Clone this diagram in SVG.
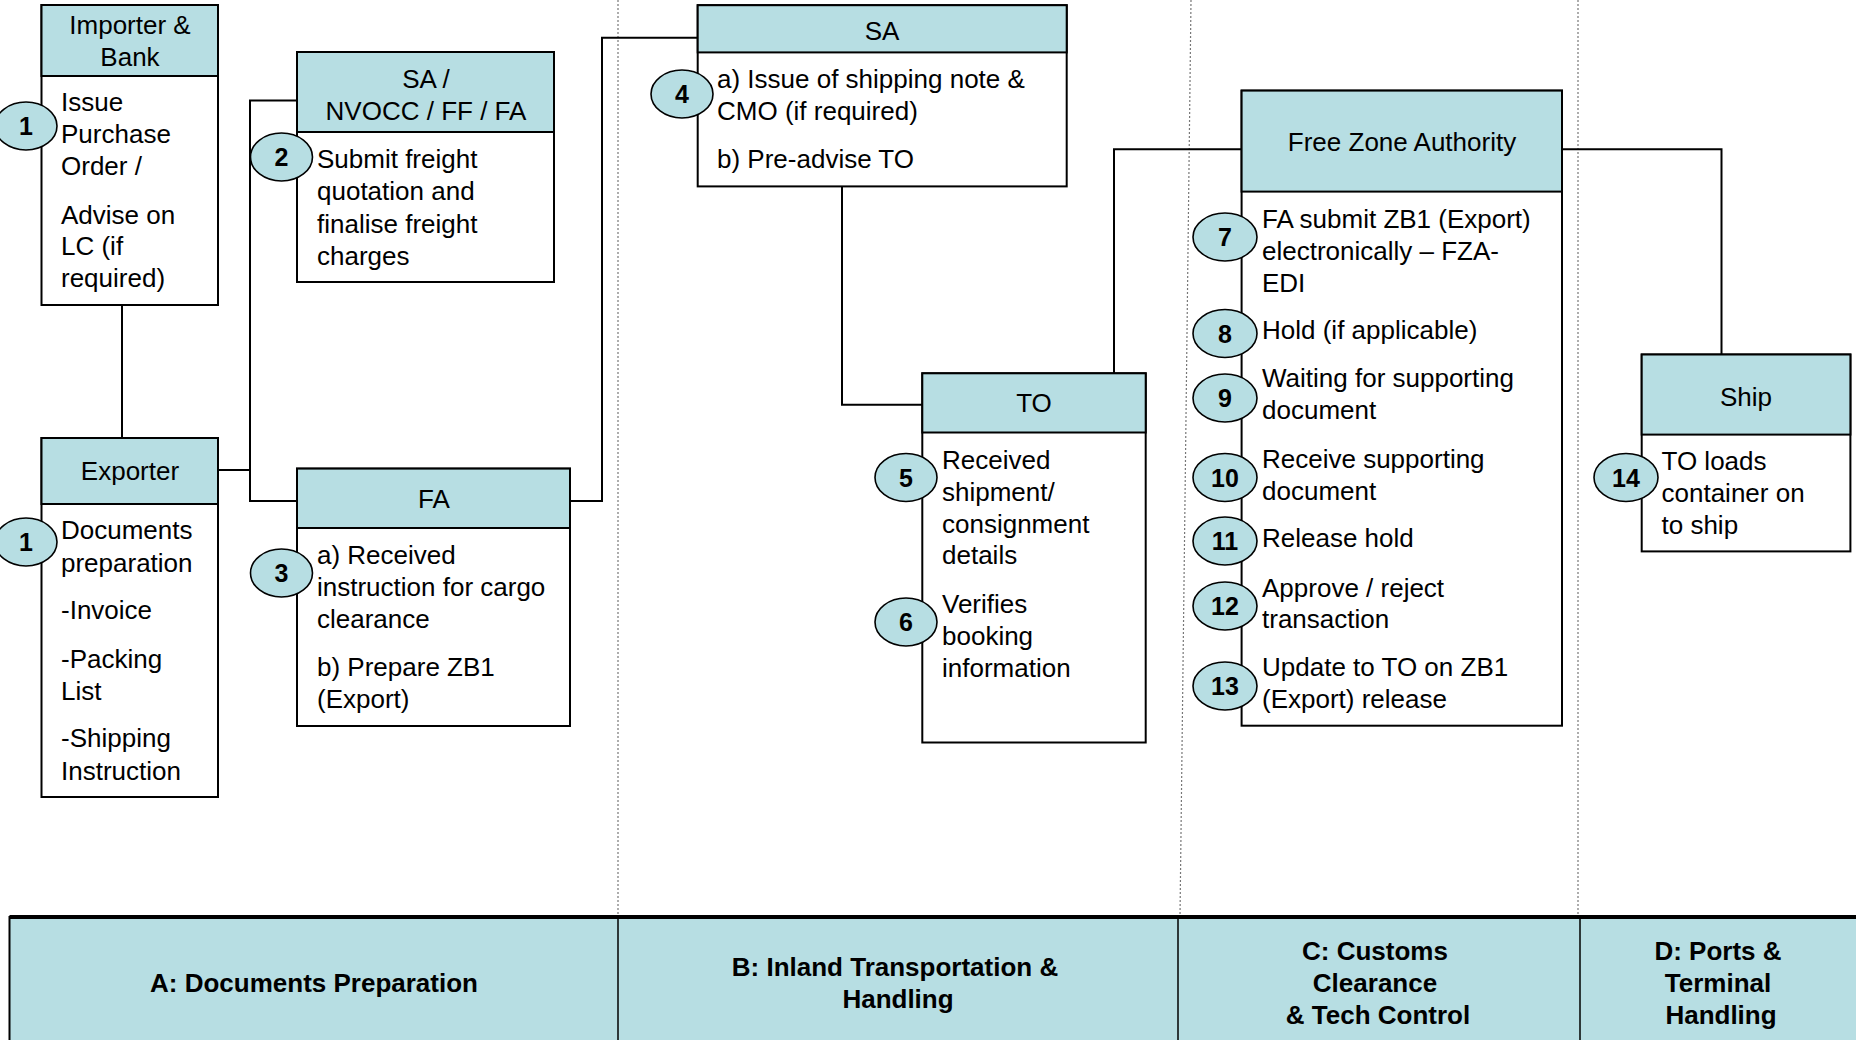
<svg xmlns="http://www.w3.org/2000/svg" width="1856" height="1040" viewBox="0 0 1856 1040">
<style>
text{font-family:"Liberation Sans",Arial,sans-serif;font-size:26px;fill:#000}
.h{text-anchor:middle}
.box{fill:#fff;stroke:#000;stroke-width:2}
.hd{fill:#B7DEE3;stroke:#000;stroke-width:2}
.num ellipse{fill:#B7DEE3;stroke:#000;stroke-width:1.6}
.num text{font-weight:bold;font-size:25px;text-anchor:middle}
.ln{fill:none;stroke:#000;stroke-width:2}
.dot{stroke:#777;stroke-width:1.2;stroke-dasharray:2 2;fill:none}
.band text{font-weight:bold;text-anchor:middle}
</style>
<rect width="1856" height="1040" fill="#fff"/>
<g id="lanes">
<line class="dot" x1="618" y1="0" x2="618" y2="917"/>
<line class="dot" x1="1191" y1="0" x2="1180" y2="917"/>
<line class="dot" x1="1578" y1="0" x2="1578" y2="917"/>
</g>
<g id="connectors">
<path class="ln" d="M122 305V438"/>
<path class="ln" d="M218 470H250M297 100.5H250V501H297"/>
<path class="ln" d="M570 501H602V37.7H698"/>
<path class="ln" d="M842 186V404.7H922"/>
<path class="ln" d="M1114 373V149.2H1242"/>
<path class="ln" d="M1562 149.2H1721.5V354.5"/>
</g>
<g id="importer">
<rect class="box" x="41.5" y="5" width="176.5" height="300"/>
<rect class="hd" x="41.5" y="5" width="176.5" height="71"/>
<text class="h" x="130" y="34">Importer &amp;</text>
<text class="h" x="130" y="66">Bank</text>
<text x="61" y="111">Issue</text>
<text x="61" y="142.5">Purchase</text>
<text x="61" y="175">Order /</text>
<text x="61" y="224">Advise on</text>
<text x="61" y="255">LC (if</text>
<text x="61" y="286.5">required)</text>
</g>
<g id="exporter">
<rect class="box" x="41.5" y="438" width="176.5" height="359"/>
<rect class="hd" x="41.5" y="438" width="176.5" height="66"/>
<text class="h" x="130" y="480">Exporter</text>
<text x="61" y="539">Documents</text>
<text x="61" y="572">preparation</text>
<text x="61" y="619">-Invoice</text>
<text x="61" y="668">-Packing</text>
<text x="61" y="700">List</text>
<text x="61" y="747">-Shipping</text>
<text x="61" y="780">Instruction</text>
</g>
<g id="sa-nvocc">
<rect class="box" x="297" y="52" width="257" height="230"/>
<rect class="hd" x="297" y="52" width="257" height="80"/>
<text class="h" x="426" y="87.5">SA /</text>
<text class="h" x="426" y="119.5">NVOCC / FF / FA</text>
<text x="317" y="168">Submit freight</text>
<text x="317" y="200">quotation and</text>
<text x="317" y="232.5">finalise freight</text>
<text x="317" y="264.5">charges</text>
</g>
<g id="fa">
<rect class="box" x="297" y="468.6" width="273" height="257.4"/>
<rect class="hd" x="297" y="468.6" width="273" height="59.4"/>
<text class="h" x="434" y="507.5">FA</text>
<text x="317" y="564">a) Received</text>
<text x="317" y="596">instruction for cargo</text>
<text x="317" y="628">clearance</text>
<text x="317" y="675.5">b) Prepare ZB1</text>
<text x="317" y="708">(Export)</text>
</g>
<g id="sa">
<rect class="box" x="697.7" y="5.2" width="369" height="181.2"/>
<rect class="hd" x="697.7" y="5.2" width="369" height="47.2"/>
<text class="h" x="882" y="39.5">SA</text>
<text x="717" y="87.5">a) Issue of shipping note &amp;</text>
<text x="717" y="120">CMO (if required)</text>
<text x="717" y="167.5">b) Pre-advise TO</text>
</g>
<g id="to">
<rect class="box" x="922.3" y="373.3" width="223.4" height="369.2"/>
<rect class="hd" x="922.3" y="373.3" width="223.4" height="59.2"/>
<text class="h" x="1034" y="412">TO</text>
<text x="942" y="469">Received</text>
<text x="942" y="501">shipment/</text>
<text x="942" y="532.5">consignment</text>
<text x="942" y="564">details</text>
<text x="942" y="612.5">Verifies</text>
<text x="942" y="645">booking</text>
<text x="942" y="676.5">information</text>
</g>
<g id="fza">
<rect class="box" x="1241.6" y="90.6" width="320.4" height="635.1"/>
<rect class="hd" x="1241.6" y="90.6" width="320.4" height="101"/>
<text class="h" x="1402" y="150.5">Free Zone Authority</text>
<text x="1262" y="228">FA submit ZB1 (Export)</text>
<text x="1262" y="259.5">electronically – FZA-</text>
<text x="1262" y="291.5">EDI</text>
<text x="1262" y="339">Hold (if applicable)</text>
<text x="1262" y="387">Waiting for supporting</text>
<text x="1262" y="419">document</text>
<text x="1262" y="468">Receive supporting</text>
<text x="1262" y="499.5">document</text>
<text x="1262" y="547">Release hold</text>
<text x="1262" y="596.5">Approve / reject</text>
<text x="1262" y="628">transaction</text>
<text x="1262" y="675.5">Update to TO on ZB1</text>
<text x="1262" y="708">(Export) release</text>
</g>
<g id="ship">
<rect class="box" x="1641.7" y="354.5" width="208.7" height="196.9"/>
<rect class="hd" x="1641.7" y="354.5" width="208.7" height="80.1"/>
<text class="h" x="1746" y="405.5">Ship</text>
<text x="1661.5" y="470">TO loads</text>
<text x="1661.5" y="502">container on</text>
<text x="1661.5" y="534">to ship</text>
</g>
<g id="steps" class="num">
<g id="s1a"><ellipse cx="26" cy="126" rx="31" ry="24"/><text x="26" y="135">1</text></g>
<g id="s1b"><ellipse cx="26" cy="542" rx="31" ry="24"/><text x="26" y="551">1</text></g>
<g id="s2"><ellipse cx="281.5" cy="157" rx="31" ry="24"/><text x="281.5" y="166">2</text></g>
<g id="s3"><ellipse cx="281.5" cy="573" rx="31" ry="24"/><text x="281.5" y="582">3</text></g>
<g id="s4"><ellipse cx="682" cy="94" rx="31" ry="24"/><text x="682" y="103">4</text></g>
<g id="s5"><ellipse cx="906" cy="477.5" rx="31" ry="24"/><text x="906" y="486.5">5</text></g>
<g id="s6"><ellipse cx="906" cy="622" rx="31" ry="24"/><text x="906" y="631">6</text></g>
<g id="s7"><ellipse cx="1225" cy="237" rx="32" ry="24"/><text x="1225" y="246">7</text></g>
<g id="s8"><ellipse cx="1225" cy="333.5" rx="32" ry="24"/><text x="1225" y="342.5">8</text></g>
<g id="s9"><ellipse cx="1225" cy="398" rx="32" ry="24"/><text x="1225" y="407">9</text></g>
<g id="s10"><ellipse cx="1225" cy="477.5" rx="32" ry="24"/><text x="1225" y="486.5">10</text></g>
<g id="s11"><ellipse cx="1225" cy="541" rx="32" ry="24"/><text x="1225" y="550">11</text></g>
<g id="s12"><ellipse cx="1225" cy="606" rx="32" ry="24"/><text x="1225" y="615">12</text></g>
<g id="s13"><ellipse cx="1225" cy="686" rx="32" ry="24"/><text x="1225" y="695">13</text></g>
<g id="s14"><ellipse cx="1626" cy="477.5" rx="32" ry="24"/><text x="1626" y="486.5">14</text></g>
</g>
<g id="band" class="band">
<rect x="9.5" y="917" width="1860" height="140" fill="#B7DEE3" stroke="#000" stroke-width="2"/>
<line x1="9.5" y1="917" x2="1856" y2="917" stroke="#000" stroke-width="4"/>
<line x1="618" y1="917" x2="618" y2="1040" stroke="#000" stroke-width="1.5"/>
<line x1="1178" y1="917" x2="1178" y2="1040" stroke="#000" stroke-width="1.5"/>
<line x1="1580" y1="917" x2="1580" y2="1040" stroke="#000" stroke-width="1.5"/>
<text x="314" y="992">A: Documents Preparation</text>
<text x="895" y="975.5">B: Inland Transportation &amp;</text>
<text x="898" y="1007.5">Handling</text>
<text x="1375" y="960">C: Customs</text>
<text x="1375" y="992">Clearance</text>
<text x="1378" y="1024">&amp; Tech Control</text>
<text x="1718" y="960">D: Ports &amp;</text>
<text x="1718" y="992">Terminal</text>
<text x="1721" y="1024">Handling</text>
</g>
</svg>
